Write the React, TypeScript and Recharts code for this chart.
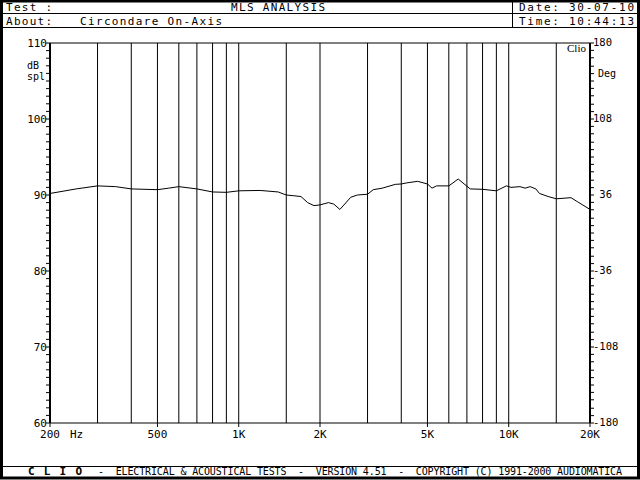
import { LineChart, Line, XAxis, YAxis, CartesianGrid, ReferenceLine } from 'recharts';

// frequency response (Hz / dB spl)
const freqs = [
  200, 250, 300, 350, 400, 500, 550, 600, 700, 800, 900, 1000, 1200, 1400, 1500, 1600, 1700,
  1800, 1900, 2000, 2150, 2250, 2370, 2600, 2750, 3000, 3150, 3400, 3800, 4000, 4200, 4600,
  5000, 5200, 5400, 6000, 6500, 7200, 8000, 9000, 9800, 10200, 11000, 11500, 12000, 12600,
  13000, 14000, 15000, 17000, 18000, 20000,
];
const spl = [
  90.2, 90.8, 91.2, 91.1, 90.8, 90.7, 90.9, 91.1, 90.8, 90.4, 90.35, 90.55, 90.6, 90.4, 90.0,
  89.9, 89.8, 89.0, 88.6, 88.7, 89.0, 88.8, 88.1, 89.7, 90.0, 90.1, 90.7, 90.9, 91.4, 91.45,
  91.6, 91.8, 91.45, 90.9, 91.2, 91.2, 92.1, 90.8, 90.75, 90.55, 91.2, 91.0, 91.1, 90.9, 91.1,
  90.8, 90.2, 89.8, 89.5, 89.65, 89.1, 88.1,
];

const gridFreqs = [300, 400, 500, 600, 700, 800, 900, 1000, 1500, 2000, 3000, 4000, 5000, 6000, 7000, 8000, 9000, 10000, 15000];
const freqTicks = [200, 500, 1000, 2000, 5000, 10000, 20000];
const freqLabels = ['200', '500', '1K', '2K', '5K', '10K', '20K'];
const splLabels = [60, 70, 80, 90, 100, 110];
const degLabels = [-180, -108, -36, 36, 108, 180];

const data = freqs.map((f, i) => ({ f, spl: spl[i] }));
// 1 dB minor ticks, the phase axis shares the same divisions
const splTicks = Array.from({ length: 51 }, (_, i) => 60 + i);
const degTicks = splTicks.map((v) => Math.round((v - 90) * 7.2 + 36));

const MONO = '"DejaVu Sans Mono", "Liberation Mono", monospace';

const FreqTick = (props: any) => {
  const { x, y, payload } = props;
  const idx = freqTicks.indexOf(payload.value);
  return (
    <g>
      <line x1={x} y1={y - 5} x2={x} y2={y - 1} stroke="#000" />
      <text x={x} y={y + 10} textAnchor="middle" fontFamily={MONO} fontSize={11} fill="#000">
        {freqLabels[idx]}
      </text>
      {idx === 0 && (
        <text x={x + 20} y={y + 10} fontFamily={MONO} fontSize={11} fill="#000">
          Hz
        </text>
      )}
    </g>
  );
};

// tick props: x = axis - 5 on the left, axis + 5 on the right
const SplTick = (props: any) => {
  const { x, y, payload } = props;
  const labelled = splLabels.includes(payload.value);
  return (
    <g>
      <line x1={x + 1} y1={y} x2={x + 5} y2={y} stroke="#000" />
      {labelled && (
        <text x={x + 2} y={y + 4} textAnchor="end" fontFamily={MONO} fontSize={11} fill="#000">
          {payload.value}
        </text>
      )}
    </g>
  );
};

const DegTick = (props: any) => {
  const { x, y, payload } = props;
  const labelled = degLabels.includes(payload.value);
  return (
    <g>
      <line x1={x - 5} y1={y} x2={x - 1} y2={y} stroke="#000" />
      {labelled && (
        <text
          x={x - 2}
          y={y + 3}
          textAnchor="start"
          fontFamily={MONO}
          fontSize={10.5}
          fill="#000"
          style={{ whiteSpace: 'pre' }}
        >
          {String(payload.value).padStart(3)}
        </text>
      )}
    </g>
  );
};

const HText = ({ x, y, s, w }: { x: number; y: number; s: string; w: number }) => (
  <text
    x={x}
    y={y}
    fontFamily={MONO}
    fontSize={11}
    fill="#000"
    textLength={w}
    lengthAdjust="spacing"
    style={{ whiteSpace: 'pre' }}
  >
    {s}
  </text>
);

const Frame = () => (
  <svg width={640} height={480} style={{ position: 'absolute', left: 0, top: 0, pointerEvents: 'none' }}>
    {/* outer border */}
    <rect x={1.5} y={1} width={637} height={477} fill="none" stroke="#000" strokeWidth={3} />
    {/* header */}
    <line x1={0} y1={13.5} x2={640} y2={13.5} stroke="#000" />
    <line x1={0} y1={27.5} x2={640} y2={27.5} stroke="#000" />
    <line x1={512.5} y1={0} x2={512.5} y2={27} stroke="#000" />
    <HText x={6} y={11} s="Test :" w={46} />
    <HText x={231} y={11} s="MLS ANALYSIS" w={94} />
    <HText x={519} y={11} s="Date: 30-07-10" w={115} />
    <HText x={6} y={25} s="About:" w={46} />
    <HText x={80} y={25} s="Circondare On-Axis" w={142} />
    <HText x={519} y={25} s="Time: 10:44:13" w={115} />
    {/* footer */}
    <line x1={0} y1={466.5} x2={640} y2={466.5} stroke="#000" />
    <text x={28} y={475} fontFamily={MONO} fontSize={11} fontWeight="bold" fill="#000" textLength={54} lengthAdjust="spacing">
      C L I O
    </text>
    <text
      x={98}
      y={475}
      fontFamily={MONO}
      fontSize={10}
      fill="#000"
      textLength={524}
      lengthAdjust="spacing"
      style={{ whiteSpace: 'pre' }}
    >
      {'-  ELECTRICAL & ACOUSTICAL TESTS  -  VERSION 4.51  -  COPYRIGHT (C) 1991-2000 AUDIOMATICA'}
    </text>
    {/* axis captions */}
    <g fontFamily={MONO} fontSize={10} fill="#000">
      <text x={27} y={69}>dB</text>
      <text x={27} y={80}>spl</text>
      <text x={598} y={77}>Deg</text>
    </g>
    <text x={567} y={52} fontFamily='"Liberation Serif", serif' fontSize={11} fill="#000">
      Clio
    </text>
  </svg>
);

export default function App() {
  return (
    <div style={{ position: 'absolute', left: 0, top: 0, width: 640, height: 480, background: '#fff' }}>
      <LineChart width={640} height={480} data={data} margin={{ top: 43, right: 0, bottom: 0, left: 0 }}>
        <CartesianGrid
          stroke="#000"
          strokeWidth={1}
          horizontalValues={[70, 80, 90, 100]}
          verticalValues={gridFreqs}
        />
        <XAxis
          dataKey="f"
          type="number"
          scale="log"
          domain={[200, 20000]}
          allowDataOverflow
          ticks={freqTicks}
          tick={<FreqTick />}
          tickSize={3}
          tickLine={false}
          axisLine={{ stroke: '#000', strokeWidth: 1 }}
          height={57}
          interval={0}
        />
        <YAxis
          yAxisId="spl"
          type="number"
          domain={[60, 110]}
          allowDataOverflow
          ticks={splTicks}
          interval={0}
          tick={<SplTick />}
          tickSize={3}
          tickLine={false}
          axisLine={{ stroke: '#000', strokeWidth: 2 }}
          width={50}
        />
        <YAxis
          yAxisId="deg"
          type="number"
          orientation="right"
          domain={[-180, 180]}
          allowDataOverflow
          ticks={degTicks}
          interval={0}
          tick={<DegTick />}
          tickSize={3}
          tickLine={false}
          axisLine={{ stroke: '#000', strokeWidth: 2 }}
          width={50}
        />
        <ReferenceLine yAxisId="spl" y={110} stroke="#000" />
        <Line
          yAxisId="spl"
          dataKey="spl"
          type="linear"
          stroke="#000"
          strokeWidth={1}
          dot={false}
          isAnimationActive={false}
        />
      </LineChart>
      <Frame />
    </div>
  );
}
